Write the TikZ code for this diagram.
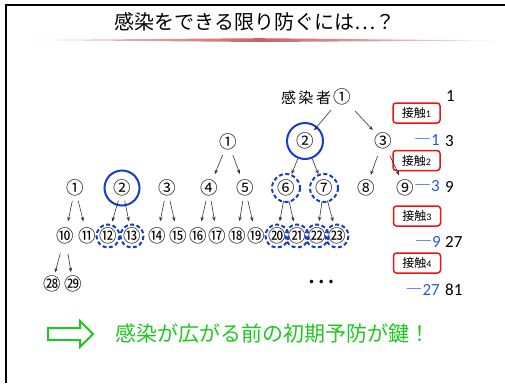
\documentclass[tikz,border=0pt]{standalone}
\usepackage{fontspec}
\setmainfont{Carlito}
\newfontfamily\cjk{Noto Sans CJK JP}
\usetikzlibrary{arrows.meta}
\definecolor{nblue}{RGB}{25,60,205}
\definecolor{tblue}{RGB}{40,90,225}
\definecolor{kred}{RGB}{235,20,20}
\definecolor{kgreen}{RGB}{30,200,30}
\definecolor{ttl}{RGB}{205,95,100}
\begin{document}
\begin{tikzpicture}[x=1pt,y=-1pt,
  num/.style={font=\cjk\fontsize{17.5}{17.5}\selectfont, inner sep=0pt},
  arr/.style={-{Stealth[length=4.5pt,width=3.5pt]}, line width=0.6pt, draw=black!80},
  solidc/.style={draw=nblue, line width=2pt},
  dashc/.style={draw=nblue, line width=2pt, dash pattern=on 4pt off 2.5pt},
  kbox/.style={draw=kred, line width=1.5pt, rounded corners=3pt, minimum width=47pt, minimum height=20pt, inner sep=0pt},
  btext/.style={text=tblue, font=\fontsize{17}{17}\selectfont, inner sep=0pt, anchor=east},
  ktext/.style={text=black, font=\fontsize{17}{17}\selectfont, inner sep=0pt, anchor=west},
]
\useasboundingbox (0,0) rectangle (505,383);
% frame
\draw[line width=1.6pt] (505,5) -- (6,5) -- (6,383);
% title
\node[font=\cjk\fontsize{20}{20}\selectfont, inner sep=0pt] (title) at (255,22) {感染をできる限り防ぐには…？};
\shade[left color=ttl!15, right color=ttl!15, middle color=ttl] (26,40) -- (260,38.2) -- (495,40.5) -- (260,42) -- cycle;

% tier 1
\node[font=\cjk\fontsize{15}{15}\selectfont, inner sep=0pt] (kan) at (306,98) {感\,染\,者};
\node[num] (a1) at (342,97) {①};
% tier 2
\node[num] (L1) at (228,142) {①};
\node[num] (b2) at (305,141) {②};
\node[num] (b3) at (383,141) {③};
% tier 3
\node[num] (r1) at (75,188) {①};
\node[num] (r2) at (122,188) {②};
\node[num] (r3) at (167,188) {③};
\node[num] (c4) at (209,188) {④};
\node[num] (c5) at (245,188) {⑤};
\node[num] (c6) at (286,188) {⑥};
\node[num] (c7) at (324,188) {⑦};
\node[num] (c8) at (366,188) {⑧};
\node[num] (c9) at (405,188) {⑨};
% tier 4
\node[num] (d10) at (65,236) {⑩};
\node[num] (d11) at (87,236) {⑪};
\node[num] (d12) at (108,236) {⑫};
\node[num] (d13) at (132,236) {⑬};
\node[num] (d14) at (157,236) {⑭};
\node[num] (d15) at (178,236) {⑮};
\node[num] (d16) at (198,236) {⑯};
\node[num] (d17) at (217,236) {⑰};
\node[num] (d18) at (237,236) {⑱};
\node[num] (d19) at (256,236) {⑲};
\node[num] (d20) at (277,236) {⑳};
\node[num] (d21) at (297,236) {㉑};
\node[num] (d22) at (317,236) {㉒};
\node[num] (d23) at (337,236) {㉓};
% tier 5
\node[num] (e28) at (52,284) {㉘};
\node[num] (e29) at (73,284) {㉙};
\node[font=\cjk\fontsize{26}{26}\selectfont, inner sep=0pt] (dots) at (321,282) {…};

% highlight circles
\draw[solidc] (b2.center) circle (18);
\draw[solidc] (r2.center) circle (17.5);
\foreach \n in {c6,c7} \draw[dashc] (\n.center) circle (14);
\foreach \n in {d12,d13,d20,d21,d22,d23} \draw[dashc] (\n.center) circle (11.5);

% right column
\node[ktext] (n1) at (446,96) {1};
\node[kbox] (k1) at (416.5,113) {{\cjk\fontsize{12}{12}\selectfont 接触}{\fontsize{10}{10}\selectfont 1}};
\node[btext] (m1) at (440,140) {{\cjk ―}1};
\node[ktext] (n3) at (445,141) {3};
\node[kbox] (k2) at (416.5,160.5) {{\cjk\fontsize{12}{12}\selectfont 接触}{\fontsize{10}{10}\selectfont 2}};
\node[btext] (m3) at (440,186) {{\cjk ―}3};
\node[ktext] (n9) at (445,187) {9};
\node[kbox] (k3) at (417,216) {{\cjk\fontsize{12}{12}\selectfont 接触}{\fontsize{10}{10}\selectfont 3}};
\node[btext] (m9) at (441,242) {{\cjk ―}9};
\node[ktext] (n27) at (445,242) {27};
\node[kbox] (k4) at (417,263) {{\cjk\fontsize{12}{12}\selectfont 接触}{\fontsize{10}{10}\selectfont 4}};
\node[btext] (m27) at (440,290) {{\cjk ―}27};
\node[ktext] (n81) at (445,290) {81};

% arrows
\draw[arr, shorten <=17pt, shorten >=14pt] (a1.center) -- (b2.center);
\draw[arr, shorten <=19pt, shorten >=15pt] (a1.center) -- (b3.center);
\draw[arr, shorten <=14pt, shorten >=15pt] (L1.center) -- (c4.center);
\draw[arr, shorten <=14pt, shorten >=15pt] (L1.center) -- (c5.center);
\draw[arr, shorten <=19pt, shorten >=15pt] (b2.center) -- (c6.center);
\draw[arr, shorten <=19pt, shorten >=15pt] (b2.center) -- (c7.center);
\draw[arr, shorten <=16pt, shorten >=14pt] (b3.center) -- (c8.center);
\draw[arr, shorten <=16pt, shorten >=14pt] (b3.center) -- (c9.center);
\foreach \p/\a/\b in {r1/d10/d11, r2/d12/d13, r3/d14/d15, c4/d16/d17, c5/d18/d19, c6/d20/d21, c7/d22/d23}{
  \draw[arr, shorten <=13pt, shorten >=15pt] (\p.center) -- (\a.center);
  \draw[arr, shorten <=13pt, shorten >=15pt] (\p.center) -- (\b.center);
}
\draw[arr, shorten <=18pt, shorten >=12pt] (d10.center) -- (e28.center);
\draw[arr, shorten <=18pt, shorten >=12pt] (d10.center) -- (e29.center);

% bottom message
\draw[draw=kgreen, line width=2pt] (48,328) -- (80,328) -- (80,321) -- (93,334) -- (80,347) -- (80,340) -- (48,340) -- cycle;
\node[text=kgreen, font=\cjk\fontsize{21}{21}\selectfont, inner sep=0pt] (msg) at (273,333) {感染が広がる前の初期予防が鍵！};
\end{tikzpicture}
\end{document}
